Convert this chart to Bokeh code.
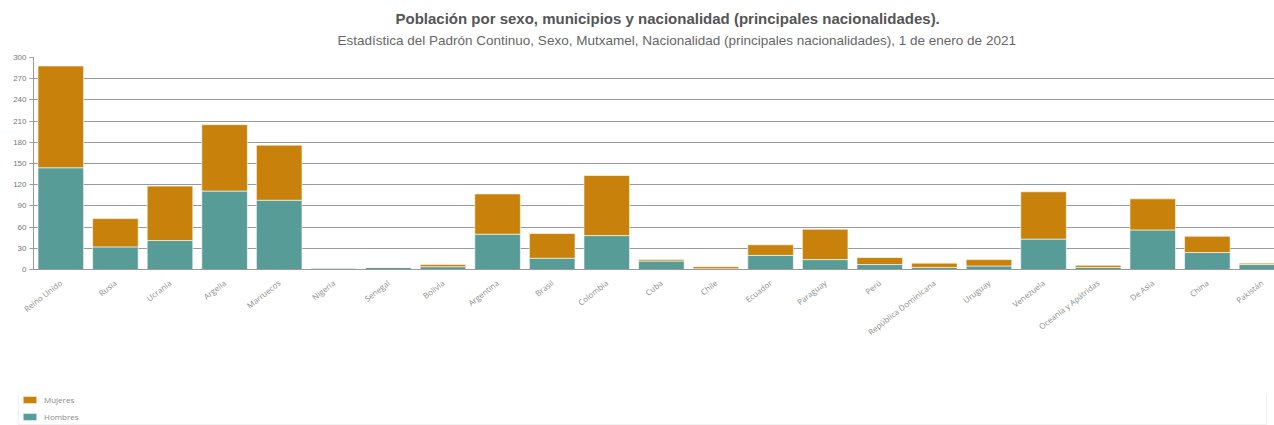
import math
from bokeh.plotting import figure
from bokeh.models import (Range1d, FixedTicker, Title, Legend, LegendItem, ColumnDataSource)
from bokeh.embed import file_html
from bokeh.resources import INLINE

categories = ["Reino Unido", "Rusia", "Ucrania", "Argelia", "Marruecos", "Nigeria", "Senegal",
              "Bolivia", "Argentina", "Brasil", "Colombia", "Cuba", "Chile", "Ecuador", "Paraguay",
              "Perú", "República Dominicana", "Uruguay", "Venezuela", "Oceania y Apátridas",
              "De Asia", "China", "Pakistán"]
hombres = [144, 32, 41, 111, 98, 2, 3, 4, 50, 16, 48, 12, 1, 20, 14, 7, 3, 5, 43, 3, 56, 24, 7]
mujeres = [144, 40, 77, 94, 78, 0, 0, 3, 57, 35, 85, 2, 3, 15, 43, 10, 6, 9, 67, 3, 44, 23, 2]
y_ticks = [0, 30, 60, 90, 120, 150, 180, 210, 240, 270, 300]
series = ["Hombres", "Mujeres"]
colors = ["#579C97", "#C8810A"]

title_main = "Población por sexo, municipios y nacionalidad (principales nacionalidades)."
title_sub = ("Estadística del Padrón Continuo, Sexo, Mutxamel, Nacionalidad (principales "
             "nacionalidades), 1 de enero de 2021")

xs = list(range(len(categories)))
source = ColumnDataSource(dict(x=xs, Hombres=hombres, Mujeres=mujeres))

p = figure(frame_width=1241, frame_height=212, output_backend="svg", toolbar_location=None,
           x_range=Range1d(-0.5, 22.23), y_range=Range1d(0, 300),
           min_border_left=33, min_border_right=0, min_border_top=57, min_border_bottom=125)

renderers = p.vbar_stack(series, x="x", width=0.835, source=source,
                         color=colors, line_color="white", line_alpha=0.6, line_width=1)

sub = Title(text=title_sub, align="left", text_font="Liberation Sans", text_font_size="13.5px",
            text_font_style="normal", text_color="#666666", offset=304, standoff=19)
main = Title(text=title_main, align="left", text_font="Liberation Sans", text_font_size="15px",
             text_font_style="bold", text_color="#555555", offset=362, standoff=-10)
p.add_layout(sub, "above")
p.add_layout(main, "above")

p.outline_line_color = None
p.xgrid.grid_line_color = None
p.ygrid.grid_line_color = "#9a9a9a"
p.ygrid.grid_line_width = 1

p.yaxis.ticker = FixedTicker(ticks=y_ticks)
p.yaxis.axis_line_color = "#9a9a9a"
p.yaxis.major_tick_line_color = "#9a9a9a"
p.yaxis.major_tick_out = 4
p.yaxis.major_tick_in = 0
p.yaxis.minor_tick_line_color = None
p.yaxis.major_label_text_font = "Liberation Sans"
p.yaxis.major_label_text_font_size = "8px"
p.yaxis.major_label_text_color = "#777777"
p.yaxis.major_label_standoff = 3

p.xaxis.ticker = FixedTicker(ticks=xs)
p.xaxis.major_label_overrides = {i: c for i, c in enumerate(categories)}
p.xaxis.major_label_orientation = math.radians(38)
p.xaxis.axis_line_color = "#9a9a9a"
p.xaxis.major_tick_line_color = None
p.xaxis.minor_tick_line_color = None
p.xaxis.major_label_text_font = "Open Sans"
p.xaxis.major_label_text_font_size = "8px"
p.xaxis.major_label_text_color = "#8a8a8a"
p.xaxis.major_label_standoff = 6

# legend strip below the chart (separate root, so no frame alignment)
p2 = figure(frame_width=1274, frame_height=31, output_backend="svg", toolbar_location=None,
            x_range=Range1d(0, 1), y_range=Range1d(0, 1),
            min_border=0, x_axis_location=None, y_axis_location=None)
p2.outline_line_color = None
p2.grid.grid_line_color = None
sw_h = p2.vbar(x=[5], top=[1], width=0.1, color=colors[0], line_color="white", line_alpha=0.6)
sw_m = p2.vbar(x=[5], top=[1], width=0.1, color=colors[1], line_color="white", line_alpha=0.6)
legend = Legend(items=[LegendItem(label=series[1], renderers=[sw_m]),
                       LegendItem(label=series[0], renderers=[sw_h])],
                orientation="vertical", location=(18, 0),
                glyph_width=17, glyph_height=9, label_text_font="Open Sans",
                label_text_font_size="8px", label_text_color="#888888",
                label_height=9, label_width=1220, spacing=6, padding=2, margin=0,
                border_line_color="#e6e6e6", label_standoff=6)
p2.add_layout(legend, "center")

open("out.html", "w").write(file_html([p, p2], INLINE))
